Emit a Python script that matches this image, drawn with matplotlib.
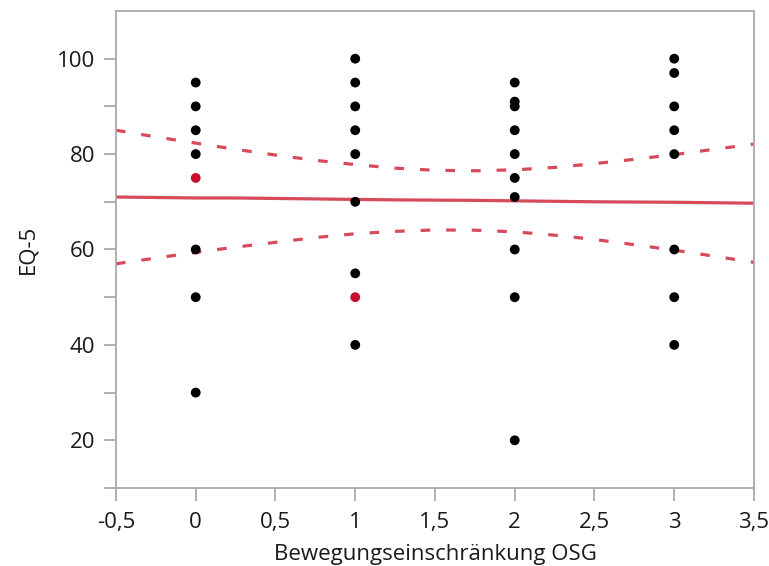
import numpy as np
import matplotlib.pyplot as plt

# data
x_black = [0, 0, 0, 0, 0, 0, 0,
           1, 1, 1, 1, 1, 1, 1, 1,
           2, 2, 2, 2, 2, 2, 2, 2, 2, 2,
           3, 3, 3, 3, 3, 3, 3, 3]
y_black = [95, 90, 85, 80, 60, 50, 30,
           100, 95, 90, 85, 80, 70, 55, 40,
           95, 91, 90, 85, 80, 75, 71, 60, 50, 20,
           100, 97, 90, 85, 80, 60, 50, 40]
x_red = [0, 1]
y_red = [75, 50]

# fitted line and confidence band (read at 0.25 steps)
band_x = [-0.5, -0.25, 0, 0.25, 0.5, 0.75, 1, 1.25, 1.5, 1.75, 2, 2.25, 2.5, 2.75, 3, 3.25, 3.5]
fit_y = [71.0, 70.9, 70.8, 70.8, 70.7, 70.6, 70.5, 70.4, 70.35, 70.3, 70.2, 70.1, 70.0, 69.95, 69.9, 69.8, 69.7]
upper_y = [85.0, 83.6, 82.3, 81.0, 79.8, 78.7, 77.8, 77.05, 76.6, 76.5, 76.7, 77.2, 78.0, 78.9, 79.9, 81.0, 82.1]
lower_y = [57.0, 58.2, 59.4, 60.5, 61.5, 62.5, 63.3, 63.8, 64.1, 64.05, 63.7, 63.0, 62.1, 61.0, 59.85, 58.6, 57.3]

xticks = [-0.5, 0, 0.5, 1, 1.5, 2, 2.5, 3, 3.5]
xtick_labels = ['-0,5', '0', '0,5', '1', '1,5', '2', '2,5', '3', '3,5']
yticks = [10, 20, 30, 40, 50, 60, 70, 80, 90, 100]
ytick_labels = ['', '20', '', '40', '', '60', '', '80', '', '100']

plt.rcParams['font.family'] = ['Open Sans', 'DejaVu Sans']

fig = plt.figure(figsize=(7.69, 5.66), dpi=100)
ax = fig.add_axes([0.1508, 0.1378, 0.8297, 0.8428])

line_col = '#d64a5a'
ax.plot(band_x, fit_y, color=line_col, lw=2.3, zorder=2)
ax.plot(band_x, upper_y, color=line_col, lw=2.3, dashes=(3.0, 5.0), zorder=2)
ax.plot(band_x, lower_y, color=line_col, lw=2.3, dashes=(3.0, 5.0), zorder=2)

ax.scatter(x_black, y_black, s=50, color='black', edgecolors='none', zorder=3)
ax.scatter(x_red, y_red, s=50, color='#c8102e', edgecolors='none', zorder=3)

ax.set_xlim(-0.5, 3.5)
ax.set_ylim(10, 110)
ax.set_xticks(xticks)
ax.set_xticklabels(xtick_labels)
ax.set_yticks(yticks)
ax.set_yticklabels(ytick_labels)

for s in ax.spines.values():
    s.set_color('#aaaaaa')
    s.set_linewidth(1.3)
ax.tick_params(direction='out', length=9, width=1.3, color='#aaaaaa',
               labelsize=16, labelcolor='#1a1a1a', pad=6)
ax.tick_params(axis='x', pad=8)

ax.set_xlabel('Bewegungseinschränkung OSG', fontsize=16, color='#1a1a1a', labelpad=8)
ax.set_ylabel('EQ-5', fontsize=16, color='#1a1a1a', labelpad=13)

fig.savefig('out.png', dpi=100)
